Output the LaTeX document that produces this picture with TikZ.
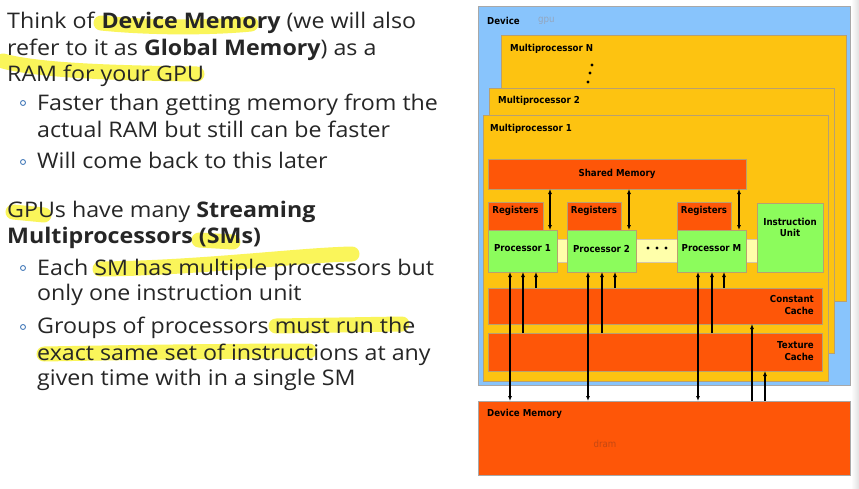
\documentclass[tikz,border=0pt]{standalone}
\usepackage{fontspec}
\setmainfont[FakeStretch=1.08]{Open Sans}
\newfontfamily\dfont[FakeStretch=0.9]{DejaVu Sans}
\usetikzlibrary{arrows.meta}

\definecolor{txt}{HTML}{262626}
\definecolor{hl}{HTML}{FAF55A}
\definecolor{bul}{HTML}{4A7EBB}
\definecolor{devblue}{HTML}{88C4FC}
\definecolor{mpyel}{HTML}{FDC311}
\definecolor{memred}{HTML}{FE5608}
\definecolor{procgreen}{HTML}{8CFC5C}
\definecolor{band}{HTML}{FFFFAA}
\definecolor{edge}{HTML}{B8A070}
\definecolor{devedge}{HTML}{A8A8A8}
\definecolor{gputxt}{HTML}{94A6BE}
\definecolor{dramtxt}{HTML}{C44812}

\tikzset{
  slide/.style={anchor=base west, inner sep=0pt, text=txt,
    font=\fontsize{21.5}{26}\selectfont},
  marker/.style={hl, line width=15pt, line cap=round},
  bulletmark/.style={draw=bul, line width=0.9pt, circle, minimum size=5pt, inner sep=0pt},
  blk/.style={anchor=north west, inner sep=0pt, outer sep=0pt, line width=0.8pt},
  devbox/.style={blk, fill=devblue, draw=devedge},
  mpbox/.style={blk, fill=mpyel, draw=edge},
  membox/.style={blk, fill=memred, draw=edge},
  procbox/.style={blk, fill=procgreen, draw=edge},
  dlabel/.style={inner sep=0pt, font=\dfont\bfseries\fontsize{9.6}{11.5}\selectfont, text=black},
  dplain/.style={inner sep=0pt, font=\dfont\fontsize{9.6}{11.5}\selectfont},
  link/.style={line width=1.1pt, -{Latex[length=5pt,width=4pt]}},
  dlink/.style={line width=1.1pt, {Latex[length=5pt,width=4pt]}-{Latex[length=5pt,width=4pt]}},
}

\begin{document}
\begin{tikzpicture}[x=1pt, y=-1pt]
\useasboundingbox (0,0) rectangle (859,488);
\fill[white] (0,0) rectangle (859,488);
\shade[left color=white, right color=black!12] (851,0) rectangle (859,488);

% ---------- highlighter strokes ----------
\draw[marker] (101,23) .. controls (150,28) and (210,28) .. (251,24);
\draw[marker] (3,61) .. controls (40,71) and (120,73) .. (197,74);
\draw[marker] (13,212) -- (44,215);
\draw[marker] (199,240) -- (233,242);
\draw[marker] (100,269) .. controls (200,268) and (300,255) .. (352,254);
\draw[marker] (276,326) -- (402,324);
\draw[marker] (44,354) .. controls (150,352) and (250,351) .. (309,351);

% ---------- slide text ----------
\node[slide] (t1) at (7,28) {Think of \textbf{Device Memory} (we will also};
\node[slide] (t2) at (7,55) {refer to it as \textbf{Global Memory}) as a};
\node[slide] (t3) at (7,81) {RAM for your GPU};
\node[bulletmark] (b1) at (23,103) {};
\node[slide] (t4) at (37,110) {Faster than getting memory from the};
\node[slide] (t5) at (37,137) {actual RAM but still can be faster};
\node[bulletmark] (b2) at (23,162) {};
\node[slide] (t6) at (37,168) {Will come back to this later};
\node[slide] (t7) at (7,217) {GPUs have many \textbf{Streaming}};
\node[slide] (t8) at (7,243) {\textbf{Multiprocessors (SMs)}};
\node[bulletmark] (b3) at (23,268) {};
\node[slide] (t9) at (37,275) {Each SM has multiple processors but};
\node[slide] (t10) at (37,300) {only one instruction unit};
\node[bulletmark] (b4) at (23,327) {};
\node[slide] (t11) at (37,333) {Groups of processors must run the};
\node[slide] (t12) at (37,360) {exact same set of instructions at any};
\node[slide] (t13) at (37,385) {given time with in a single SM};

% ---------- device ----------
\node[devbox, minimum width=372pt, minimum height=379pt] (dev) at (478,6) {};
\node[dlabel, anchor=west] (devl) at (487,21) {Device};
\node[dplain, anchor=west, text=gputxt] (gpul) at (538,21) {gpu};

% multiprocessor N
\node[mpbox, minimum width=345pt, minimum height=266pt] (mpn) at (501,35) {};
\node[dlabel, anchor=west] (mpnl) at (510,49) {Multiprocessor N};
\fill (592,65) circle (1.7pt) (590,73) circle (1.7pt) (588,82) circle (1.7pt);

% multiprocessor 2
\node[mpbox, minimum width=345pt, minimum height=265pt] (mp2) at (489,88) {};
\node[dlabel, anchor=west] (mp2l) at (498,101) {Multiprocessor 2};

% multiprocessor 1
\node[mpbox, minimum width=345pt, minimum height=266pt] (mp1) at (483,115) {};
\node[dlabel, anchor=west] (mp1l) at (490,129) {Multiprocessor 1};

% shared memory
\node[membox, minimum width=258pt, minimum height=30pt] (sm) at (488,159) {};
\node[dlabel] (sml) at (617,174) {Shared Memory};

% registers
\node[membox, minimum width=55pt, minimum height=28pt] (r1) at (488,202) {};
\node[membox, minimum width=54pt, minimum height=28pt] (r2) at (567,202) {};
\node[membox, minimum width=54pt, minimum height=28pt] (rm) at (677,202) {};
\node[dlabel] (r1l) at (515.5,210.5) {Registers};
\node[dlabel] (r2l) at (594,210.5) {Registers};
\node[dlabel] (rml) at (704,210.5) {Registers};

% interconnect band between processors
\node[blk, fill=band, draw=edge!60, minimum width=200pt, minimum height=23pt] (bnd) at (557,239) {};

% processors
\node[procbox, minimum width=69pt, minimum height=42pt] (p1) at (488,230) {};
\node[procbox, minimum width=69pt, minimum height=42pt] (p2) at (567,230) {};
\node[procbox, minimum width=69pt, minimum height=42pt] (pm) at (677,230) {};
\node[dlabel] (p1l) at (522.5,248.5) {Processor 1};
\node[dlabel] (p2l) at (601.5,248.5) {Processor 2};
\node[dlabel] (pml) at (711.5,248.5) {Processor M};
\fill (648,248) circle (1.6pt) (657,248) circle (1.6pt) (666,248) circle (1.6pt);

% instruction unit
\node[procbox, minimum width=66pt, minimum height=69pt] (iu) at (757,203) {};
\node[dlabel, align=center] (iul) at (790,227.5) {Instruction\\Unit};

% caches
\node[membox, minimum width=334pt, minimum height=36pt] (cc) at (488,288) {};
\node[dlabel, align=right, anchor=east] (ccl) at (814,305) {Constant\\Cache};
\node[membox, minimum width=334pt, minimum height=38pt] (tc) at (488,333) {};
\node[dlabel, align=right, anchor=east] (tcl) at (814,351) {Texture\\Cache};

% device memory
\node[membox, draw=devedge, minimum width=372pt, minimum height=74pt] (dm) at (478,401) {};
\node[dlabel, anchor=west] (dml) at (487,414) {Device Memory};
\node[dplain, text=dramtxt] (draml) at (605,444) {dram};

% ---------- connectors ----------
% column positions
\coordinate (c1) at (550,0);  \coordinate (c2) at (629,0);  \coordinate (c3) at (739,0);
\coordinate (a1) at (510,0);  \coordinate (a2) at (523,0);  \coordinate (a3) at (536,0);
\coordinate (b1x) at (588,0); \coordinate (b2x) at (602,0); \coordinate (b3x) at (615,0);
\coordinate (m1) at (698,0);  \coordinate (m2) at (712,0);  \coordinate (m3) at (724,0);
\coordinate (u1) at (752,0);  \coordinate (u2) at (765,0);

% shared memory <-> processors
\draw[dlink] (sm.south -| c1) -- (p1.north -| c1);
\draw[dlink] (sm.south -| c2) -- (p2.north -| c2);
\draw[dlink] (sm.south -| c3) -- (pm.north -| c3);

% processors <-> device memory, caches -> processors
\draw[dlink] (p1.south -| a1) -- (dm.north -| a1);
\draw[link] (tc.north -| a2) -- (p1.south -| a2);
\draw[link] (cc.north -| a3) -- (p1.south -| a3);
\draw[dlink] (p2.south -| b1x) -- (dm.north -| b1x);
\draw[link] (tc.north -| b2x) -- (p2.south -| b2x);
\draw[link] (cc.north -| b3x) -- (p2.south -| b3x);
\draw[dlink] (pm.south -| m1) -- (dm.north -| m1);
\draw[link] (tc.north -| m2) -- (pm.south -| m2);
\draw[link] (cc.north -| m3) -- (pm.south -| m3);

% device memory -> caches
\draw[link] (dm.north -| u1) -- (cc.south -| u1);
\draw[link] (dm.north -| u2) -- (tc.south -| u2);
\end{tikzpicture}
\end{document}
